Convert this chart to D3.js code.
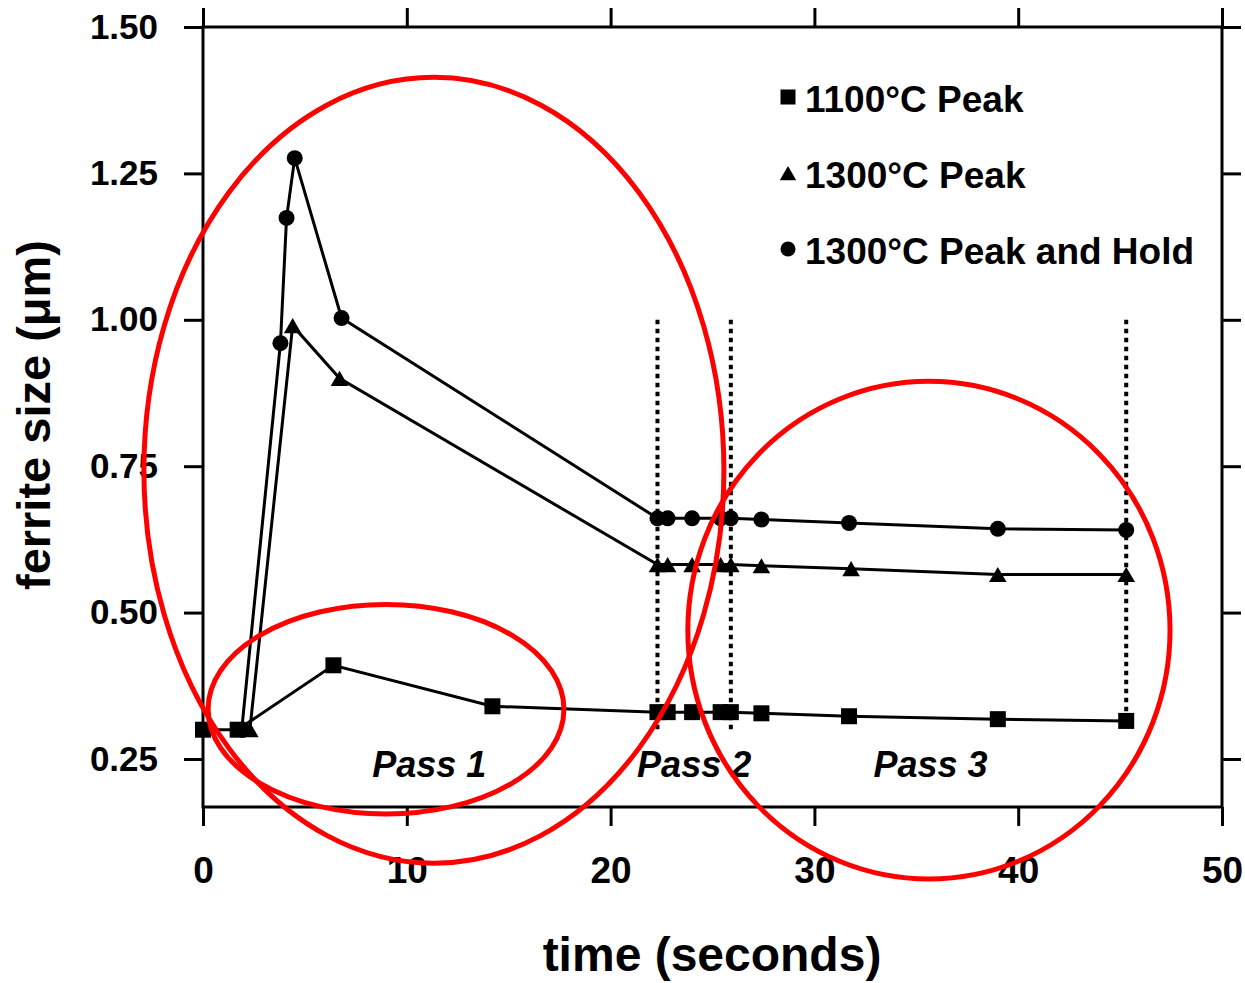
<!DOCTYPE html>
<html>
<head>
<meta charset="utf-8">
<script src="https://cdn.jsdelivr.net/npm/d3@7"></script>
<style>
  html, body { margin: 0; padding: 0; background: #fff; }
  svg { display: block; }
  text { font-family: Arial, "Liberation Sans", sans-serif; font-weight: bold; fill: #000; }
</style>
</head>
<body>
<svg id="chart" width="1245" height="983"></svg>
<script>
// ---------------- data ----------------
const seriesNames = ["1100°C Peak", "1300°C Peak", "1300°C Peak and Hold"];
const seriesSymbols = ["square", "triangle", "circle"];

const time1100 = [0, 1.7, 6.4, 14.2, 22.3, 22.8, 24.0, 25.4, 25.9, 27.4, 31.7, 39.0, 45.3];
const size1100 = [0.30, 0.30, 0.41, 0.34, 0.33, 0.33, 0.33, 0.33, 0.33, 0.328, 0.323, 0.318, 0.315];

const time1300 = [2.3, 4.4, 6.7, 22.3, 22.8, 24.0, 25.4, 25.9, 27.4, 31.8, 39.0, 45.3];
const size1300 = [0.30, 0.99, 0.90, 0.582, 0.582, 0.582, 0.582, 0.582, 0.58, 0.575, 0.565, 0.565];

const timeHold = [1.9, 3.8, 4.1, 4.5, 6.8, 22.3, 22.8, 24.0, 25.4, 25.9, 27.4, 31.7, 39.0, 45.3];
const sizeHold = [0.30, 0.96, 1.174, 1.276, 1.003, 0.661, 0.661, 0.661, 0.661, 0.661, 0.659, 0.653, 0.643, 0.641];

const xTicks = [0, 10, 20, 30, 40, 50];
const yTicks = [0.25, 0.50, 0.75, 1.00, 1.25, 1.50];

// dotted pass boundaries (time) spanning ferrite size 1.00 -> bottom value
const passLineTimes = [22.3, 25.9, 45.3];
const passLineTop = 1.00;
const passLineBottom = [0.30, 0.30, 0.33];

const passLabels = ["Pass 1", "Pass 2", "Pass 3"];
const passLabelTime = [11.1, 24.1, 35.7];
const passLabelSize = 0.219;

// red annotation ellipses in data units: centre time, centre size, radius time, radius size
const ellipseCx = [11.33, 8.98, 35.62];
const ellipseCy = [0.743, 0.335, 0.470];
const ellipseRx = [14.23, 8.73, 11.83];
const ellipseRy = [0.671, 0.179, 0.425];

// ---------------- layout ----------------
const svg = d3.select("#chart");
const plotL = 203, plotR = 1222, plotT = 27, plotB = 807;

const x = d3.scaleLinear().domain([0, 50]).range([plotL, plotR]);
const y = d3.scaleLinear().domain([0.168, 1.5]).range([plotB, plotT]);

const tickLen = 19;

const gL = svg.append("g").attr("transform", `translate(${plotL},0)`)
  .call(d3.axisLeft(y).tickValues(yTicks).tickFormat(d3.format(".2f")).tickSize(tickLen).tickPadding(26));
const gB = svg.append("g").attr("transform", `translate(0,${plotB})`)
  .call(d3.axisBottom(x).tickValues(xTicks).tickFormat(d3.format("d")).tickSize(tickLen).tickPadding(31));
const gT = svg.append("g").attr("transform", `translate(0,${plotT})`)
  .call(d3.axisTop(x).tickValues(xTicks).tickFormat("").tickSize(tickLen));
const gR = svg.append("g").attr("transform", `translate(${plotR},0)`)
  .call(d3.axisRight(y).tickValues(yTicks).tickFormat("").tickSize(tickLen));

[gL, gB, gT, gR].forEach(g => {
  g.select(".domain").remove();
  g.selectAll(".tick line").attr("stroke", "#000").attr("stroke-width", 3);
  g.selectAll("text").style("font-family", "Arial, 'Liberation Sans', sans-serif").style("font-weight", "bold").attr("fill", "#000");
});
gL.selectAll("text").style("font-size", "35px");
gB.selectAll("text").style("font-size", "37px");

// frame
svg.append("rect").attr("x", plotL).attr("y", plotT).attr("width", plotR - plotL).attr("height", plotB - plotT)
  .attr("fill", "none").attr("stroke", "#000").attr("stroke-width", 3);

// axis titles
svg.append("text").attr("x", 712).attr("y", 971).attr("text-anchor", "middle")
  .style("font-size", "48px").text("time (seconds)");
svg.append("text").attr("transform", "translate(50,415) rotate(-90)").attr("text-anchor", "middle")
  .style("font-size", "47px").text("ferrite size (μm)");

// dotted pass lines
svg.append("g").selectAll("line").data(passLineTimes).join("line")
  .attr("x1", d => x(d)).attr("x2", d => x(d))
  .attr("y1", y(passLineTop)).attr("y2", (d, i) => y(passLineBottom[i]))
  .attr("stroke", "#000").attr("stroke-width", 4).attr("stroke-dasharray", "4.5 4.5");

// series
const series = [
  { name: seriesNames[0], sym: seriesSymbols[0], pts: time1100.map((t, i) => [t, size1100[i]]) },
  { name: seriesNames[1], sym: seriesSymbols[1], pts: time1300.map((t, i) => [t, size1300[i]]) },
  { name: seriesNames[2], sym: seriesSymbols[2], pts: timeHold.map((t, i) => [t, sizeHold[i]]) }
];

const line = d3.line().x(d => x(d[0])).y(d => y(d[1]));

function drawMarker(g, sym, cx, cy, s) {
  if (sym === "square") {
    g.append("rect").attr("x", cx - s / 2).attr("y", cy - s / 2).attr("width", s).attr("height", s).attr("fill", "#000");
  } else if (sym === "triangle") {
    const w = s * 1.1, h = s * 0.95;
    g.append("path").attr("d", `M${cx},${cy - h / 2}L${cx + w / 2},${cy + h / 2}L${cx - w / 2},${cy + h / 2}Z`).attr("fill", "#000");
  } else {
    g.append("circle").attr("cx", cx).attr("cy", cy).attr("r", s / 2).attr("fill", "#000");
  }
}

series.forEach(s => {
  svg.append("path").datum(s.pts).attr("d", line).attr("fill", "none").attr("stroke", "#000").attr("stroke-width", 3);
  const g = svg.append("g");
  s.pts.forEach(p => drawMarker(g, s.sym, x(p[0]), y(p[1]), 16));
});

// legend
const legend = svg.append("g");
series.forEach((s, i) => {
  const by = 112 + i * 76;
  drawMarker(legend, s.sym, 788, by - 15, 15);
  legend.append("text").attr("x", 805).attr("y", by).style("font-size", "37px").text(s.name);
});

// pass labels
svg.append("g").selectAll("text").data(passLabels).join("text")
  .attr("x", (d, i) => x(passLabelTime[i])).attr("y", y(passLabelSize))
  .attr("text-anchor", "middle").style("font-size", "36px").style("font-style", "italic")
  .text(d => d);

// red annotation ellipses
svg.append("g").selectAll("ellipse").data(ellipseCx).join("ellipse")
  .attr("cx", (d, i) => x(ellipseCx[i]))
  .attr("cy", (d, i) => y(ellipseCy[i]))
  .attr("rx", (d, i) => x(ellipseRx[i]) - x(0))
  .attr("ry", (d, i) => y(0) - y(ellipseRy[i]))
  .attr("fill", "none").attr("stroke", "#ff0000").attr("stroke-width", 5);
</script>
</body>
</html>
